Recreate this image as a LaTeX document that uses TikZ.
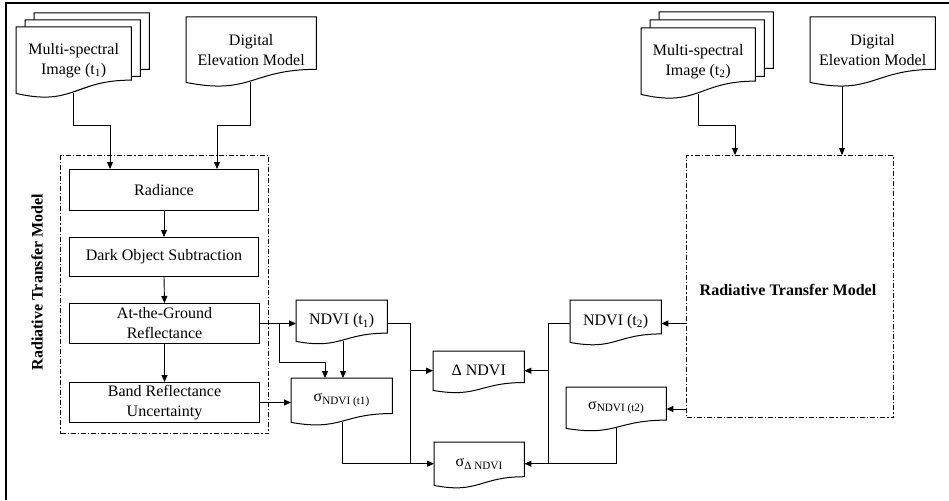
\documentclass[tikz,border=0pt]{standalone}
\usepackage{fontspec}
\setmainfont{Liberation Serif}
\usetikzlibrary{arrows.meta,calc}
\pgfdeclarelayer{bg}
\pgfdeclarelayer{docs}
\pgfsetlayers{bg,docs,main}
\newcommand{\docshape}[1]{%
  \draw[docline] let \p1=(#1.north west), \p2=(#1.south east), \n1={\y1-\y2} in
  (\p1) -- (\x2,\y1) -- (\x2,{\y1-0.8*\n1})
  .. controls ({(\x1+\x2)/2},{\y1-0.8*\n1}) and ({(\x1+\x2)/2},{\y1-1.2*\n1}) ..
  (\x1,\y2) -- cycle;}
\tikzset{
  txt/.style={font=\fontsize{16}{20}\selectfont, align=center},
  box/.style={txt, draw, line width=1pt, anchor=north west, inner sep=0pt},
  doc/.style={txt, anchor=north west, inner sep=0pt},
  docline/.style={draw, fill=white, line width=1pt},
  dashbox/.style={draw, line width=1pt, anchor=north west, inner sep=0pt,
    dash pattern=on 5pt off 2pt on 1.2pt off 2pt},
  conn/.style={line width=0.9pt},
  arr/.style={conn, -{Triangle[length=7pt,width=6pt]}},
}
\begin{document}
\begin{tikzpicture}[x=1pt,y=-1pt]
\useasboundingbox (0,0) rectangle (949,500);
\draw[line width=1.5pt] (6,500) -- (6,3) -- (949,3);

% document-shaped nodes (text only; outlines drawn on docs layer)
\node[doc, minimum width=115, minimum height=70] (msi1c) at (34,13) {};
\node[doc, minimum width=115, minimum height=70] (msi1b) at (25,20) {};
\node[doc, minimum width=115, minimum height=66] (msi1) at (16,27) {Multi-spectral\\Image (t\textsubscript{1})};
\node[doc, minimum width=130, minimum height=65] (dem1) at (186,17) {Digital\\Elevation Model};
\node[doc, minimum width=114, minimum height=70] (msi2c) at (659,12) {};
\node[doc, minimum width=114, minimum height=70] (msi2b) at (650,20) {};
\node[doc, minimum width=114, minimum height=66] (msi2) at (641,28) {Multi-spectral\\Image (t\textsubscript{2})};
\node[doc, minimum width=125, minimum height=65] (dem2) at (810,17) {Digital\\Elevation Model};

\node[doc, minimum width=91, minimum height=41] (ndvi1) at (296,300) {NDVI (t\textsubscript{1})};
\node[doc, minimum width=101, minimum height=44] (sig1) at (291,378) {σ\textsubscript{NDVI (t1)}};
\node[doc, minimum width=91, minimum height=39] (dn) at (433,351) {Δ NDVI};
\node[doc, minimum width=90, minimum height=43] (sdn) at (434,442) {σ\textsubscript{Δ NDVI}};
\node[doc, minimum width=91, minimum height=42] (ndvi2) at (570,300) {NDVI (t\textsubscript{2})};
\node[doc, minimum width=100, minimum height=41] (sig2) at (566,387) {σ\textsubscript{NDVI (t2)}};

% process boxes
\node[box, minimum width=189, minimum height=41] (rad) at (69,169) {Radiance};
\node[box, minimum width=189, minimum height=39] (dos) at (69,237) {Dark Object Subtraction};
\node[box, minimum width=190, minimum height=40] (agr) at (69,303) {At-the-Ground\\Reflectance};
\node[box, minimum width=190, minimum height=40] (bru) at (69,382) {Band Reflectance\\Uncertainty};

% radiative transfer model boxes
\node[dashbox, minimum width=208, minimum height=278] (lbox) at (60,155) {};
\node[dashbox, minimum width=207, minimum height=262] (rbox) at (686,155) {};
\node[txt, font=\fontsize{16}{20}\selectfont\bfseries, rotate=90] (ltitle) at (37,282) {Radiative Transfer Model};
\node[txt, font=\fontsize{16}{20}\selectfont\bfseries] (rtitle) at (788,290) {Radiative Transfer Model};

\begin{pgfonlayer}{docs}
\docshape{msi1c}\docshape{msi1b}\docshape{msi1}
\docshape{dem1}
\docshape{msi2c}\docshape{msi2b}\docshape{msi2}
\docshape{dem2}
\docshape{ndvi1}\docshape{sig1}\docshape{dn}\docshape{sdn}\docshape{ndvi2}\docshape{sig2}
\end{pgfonlayer}

% bend coordinates
\coordinate (m1) at (73,125);  \coordinate (m1b) at (110,125);
\coordinate (d1) at (250,125); \coordinate (d1b) at (217,125);
\coordinate (m2) at (698,125); \coordinate (m2b) at (735,125);
\coordinate (d2) at (842,0);
\coordinate (br2) at (279,362); \coordinate (br3) at (325,362);
\coordinate (n1x) at (343,0);
\coordinate (v1) at (410,0);  \coordinate (s1x) at (342,0);
\coordinate (v2) at (548,0);  \coordinate (s2x) at (616,0);
\coordinate (y2) at (0,409);

\begin{pgfonlayer}{bg}
\draw[arr] (m1 |- msi1.south) -- (m1) -- (m1b) -- (m1b |- rad.north);
\draw[arr] (d1 |- dem1.south) -- (d1) -- (d1b) -- (d1b |- rad.north);
\draw[arr] (m2 |- msi2.south) -- (m2) -- (m2b) -- (m2b |- rbox.north);
\draw[arr] (d2 |- dem2.south) -- (d2 |- rbox.north);

\draw[arr] (rad.south) -- (dos.north);
\draw[arr] (dos.south) -- (agr.north);
\draw[arr] (agr.south) -- (bru.north);

\draw[arr] (agr.east) -- (agr.east -| ndvi1.west);
\draw[arr] (agr.east -| br2) -- (br2) -- (br3) -- (br3 |- sig1.north);
\draw[arr] (n1x |- ndvi1.south) -- (n1x |- sig1.north);
\draw[arr] (bru.east) -- (bru.east -| sig1.west);

\draw[conn] (ndvi1.east |- agr.east) -- (v1 |- agr.east) -- (v1 |- sdn.west);
\draw[arr] (v1 |- dn.west) -- (dn.west);
\draw[arr] (v1 |- sdn.west) -- (sdn.west);
\draw[conn] (s1x |- sig1.south) -- (s1x |- sdn.west) -- (v1 |- sdn.west);

\draw[conn] (ndvi2.west |- agr.east) -- (v2 |- agr.east) -- (v2 |- sdn.east);
\draw[arr] (v2 |- dn.east) -- (dn.east);
\draw[arr] (v2 |- sdn.east) -- (sdn.east);
\draw[conn] (s2x |- sig2.south) -- (s2x |- sdn.east) -- (v2 |- sdn.east);

\draw[arr] (rbox.west |- agr.east) -- (ndvi2.east |- agr.east);
\draw[arr] (rbox.west |- y2) -- (sig2.east |- y2);
\end{pgfonlayer}
\end{tikzpicture}
\end{document}
